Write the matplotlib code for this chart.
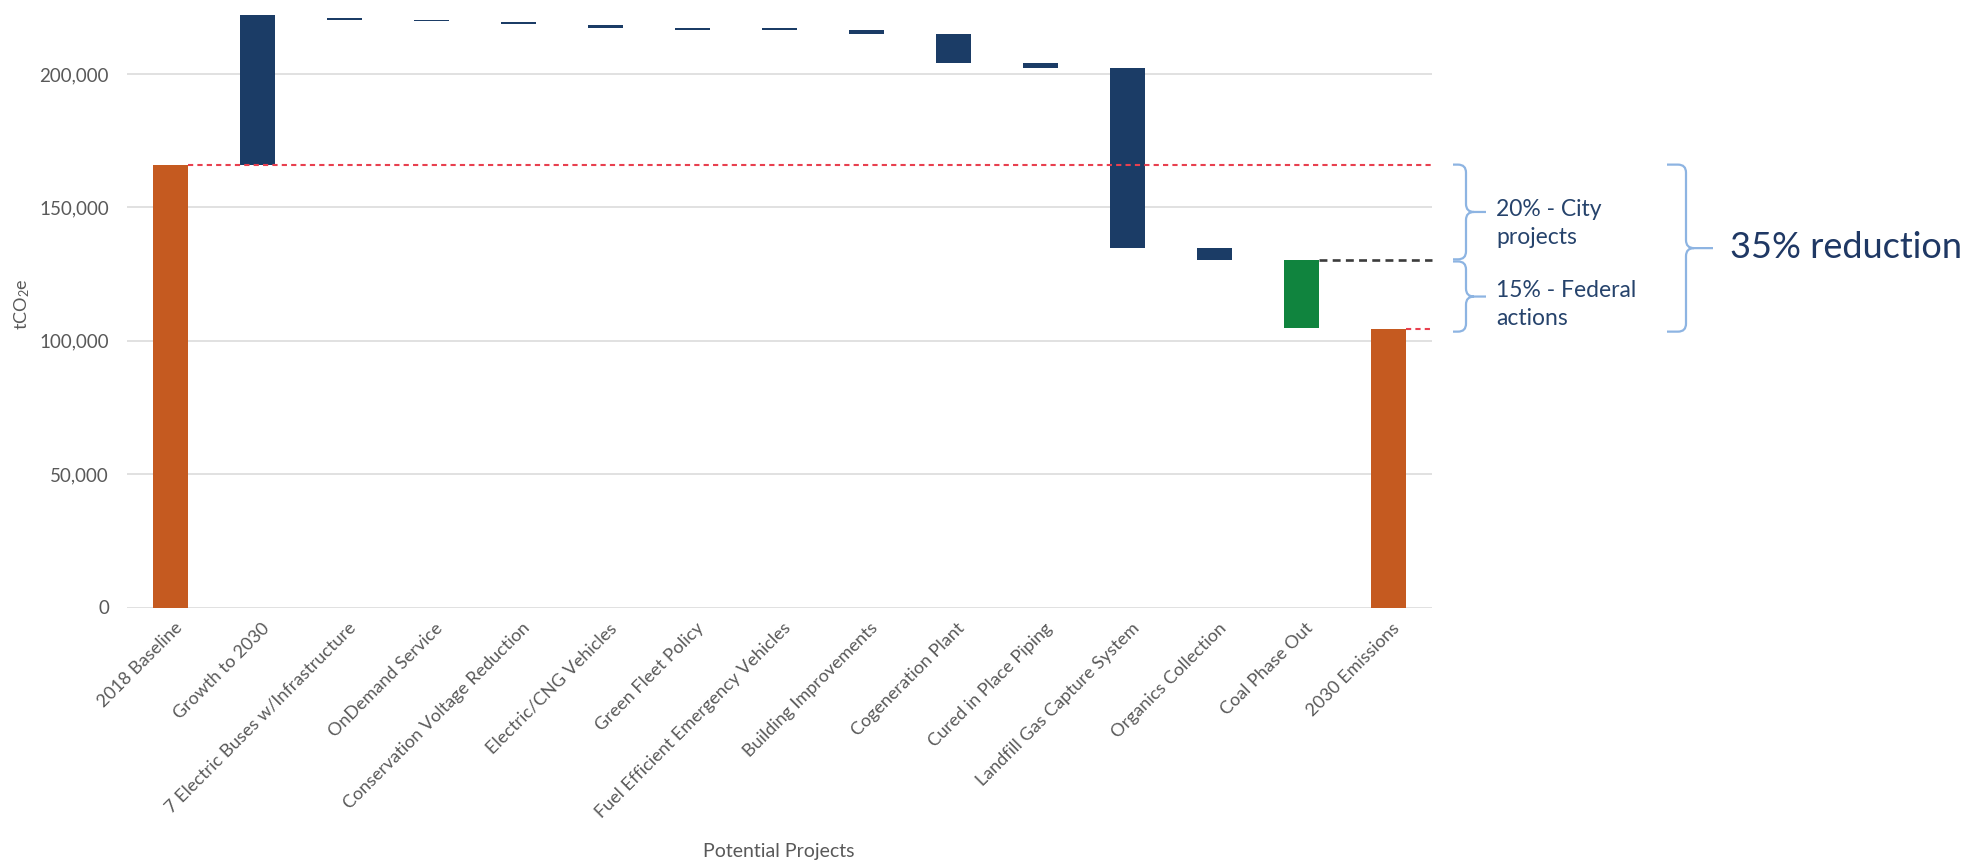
import matplotlib
matplotlib.use("Agg")
import matplotlib.pyplot as plt
import matplotlib.transforms as mtransforms
from matplotlib.path import Path
from matplotlib.patches import PathPatch
from matplotlib.ticker import FuncFormatter

plt.rcParams['font.family'] = ['Lato', 'DejaVu Sans']
plt.rcParams['mathtext.default'] = 'regular'

# waterfall data (tCO2e)
labels = [
    "2018 Baseline", "Growth to 2030", "7 Electric Buses w/Infrastructure",
    "OnDemand Service", "Conservation Voltage Reduction", "Electric/CNG Vehicles",
    "Green Fleet Policy", "Fuel Efficient Emergency Vehicles", "Building Improvements",
    "Cogeneration Plant", "Cured in Place Piping", "Landfill Gas Capture System",
    "Organics Collection", "Coal Phase Out", "2030 Emissions",
]
bar_bottom = [0, 166000, 220300, 219700, 218600, 217300, 216500, 216500,
              214800, 204000, 202100, 134900, 130200, 104600, 0]
bar_top = [166000, 221900, 220800, 220200, 219400, 218400, 217100, 217100,
           216500, 214800, 204000, 202100, 134900, 130200, 104400]
bar_kind = ["total", "project", "project", "project", "project", "project",
            "project", "project", "project", "project", "project", "project",
            "project", "federal", "total"]
yticks = [0, 50000, 100000, 150000, 200000]

kind_colors = {"total": "#C55A20", "project": "#1B3C66", "federal": "#10843E"}
grey_txt = "#595959"
navy_txt = "#26436C"
brace_col = "#8DB4E2"

W, H = 1986, 868
fig = plt.figure(figsize=(W / 100, H / 100), dpi=100)
ax = fig.add_axes([127 / W, (H - 607.5) / H, (1432 - 127) / W, 607.5 / H])

x = list(range(len(labels)))
heights = [t - b for t, b in zip(bar_top, bar_bottom)]
ax.bar(x, heights, bottom=bar_bottom, width=0.4,
       color=[kind_colors[k] for k in bar_kind], zorder=2, linewidth=0)

ax.set_xlim(-0.5, 14.5)
ax.set_ylim(0, 227700)
for s in ax.spines.values():
    s.set_visible(False)
ax.set_yticks(yticks)
ax.yaxis.set_major_formatter(FuncFormatter(lambda v, p: f"{v:,.0f}"))
ax.yaxis.grid(True, color="#D9D9D9", linewidth=1.1)
ax.set_axisbelow(True)
ax.tick_params(axis="y", length=0, pad=13, labelsize=13.5, labelcolor=grey_txt)
ax.tick_params(axis="x", length=0, pad=13, labelsize=13, labelcolor=grey_txt)
ax.set_xticks(x)
ax.set_xticklabels(labels, rotation=45, ha="right", va="center",
                   rotation_mode="anchor")
# nudge the slanted labels so their ends sit under the bars
shift = mtransforms.ScaledTranslation(9 / 100, 0, fig.dpi_scale_trans)
for lab in ax.xaxis.get_majorticklabels():
    lab.set_transform(lab.get_transform() + shift)

ax.set_ylabel("tCO$_2$e", fontsize=13, color=grey_txt)
ax.yaxis.set_label_coords(-(127 - 32) / (1432 - 127), 0.5)
fig.text(779 / W, (H - 857) / H, "Potential Projects", fontsize=14,
         color=grey_txt, ha="center", va="baseline")

# reference lines
base = bar_top[0]
city_end = bar_top[13]
final = bar_top[14]
ax.plot([0.2, 14.5], [base, base], color="#E8404F", lw=1.5,
        dashes=(2.5, 2), zorder=3, clip_on=False)
ax.plot([14.2, 14.5], [final, final], color="#E8404F", lw=1.5,
        dashes=(2.5, 2), zorder=3, clip_on=False)
ax.plot([13.2, 14.5], [city_end, city_end], color="#3C3C3C", lw=1.9,
        dashes=(3, 2), zorder=3, clip_on=False)

# curly braces on the right
trans = mtransforms.blended_transform_factory(fig.transFigure, ax.transData)


def brace(x0, xm, x1, ytop, ybot):
    x0, xm, x1 = x0 / W, xm / W, x1 / W
    rx = 8 / W
    ry = 8 * 374.8
    ymid = (ytop + ybot) / 2
    verts = [
        (x0, ytop), (xm - rx, ytop), (xm, ytop), (xm, ytop - ry),
        (xm, ymid + ry), (xm, ymid), (xm + rx, ymid), (x1, ymid),
        (xm + rx, ymid), (xm, ymid), (xm, ymid - ry),
        (xm, ybot + ry), (xm, ybot), (xm - rx, ybot), (x0, ybot),
    ]
    codes = [
        Path.MOVETO, Path.LINETO, Path.CURVE3, Path.CURVE3,
        Path.LINETO, Path.CURVE3, Path.CURVE3, Path.LINETO,
        Path.MOVETO, Path.CURVE3, Path.CURVE3,
        Path.LINETO, Path.CURVE3, Path.CURVE3, Path.LINETO,
    ]
    p = PathPatch(Path(verts, codes), transform=trans, fill=False,
                  edgecolor=brace_col, lw=1.6, clip_on=False)
    ax.add_patch(p)


brace(1453, 1466, 1486, base, city_end + 300)
brace(1453, 1466, 1486, city_end - 500, final - 1000)
brace(1667, 1686, 1713, base, final - 1000)

note_lines = [("20% - City", 216), ("projects", 244),
              ("15% - Federal", 297), ("actions", 325)]
for txt, yb in note_lines:
    fig.text(1496 / W, (H - yb) / H, txt, fontsize=16.5,
             color=navy_txt, ha="left", va="baseline")
fig.text(1730 / W, (H - 258) / H, "35% reduction", fontsize=26,
         color="#1F3864", ha="left", va="baseline")

fig.savefig("out.png", dpi=100, facecolor="white")
